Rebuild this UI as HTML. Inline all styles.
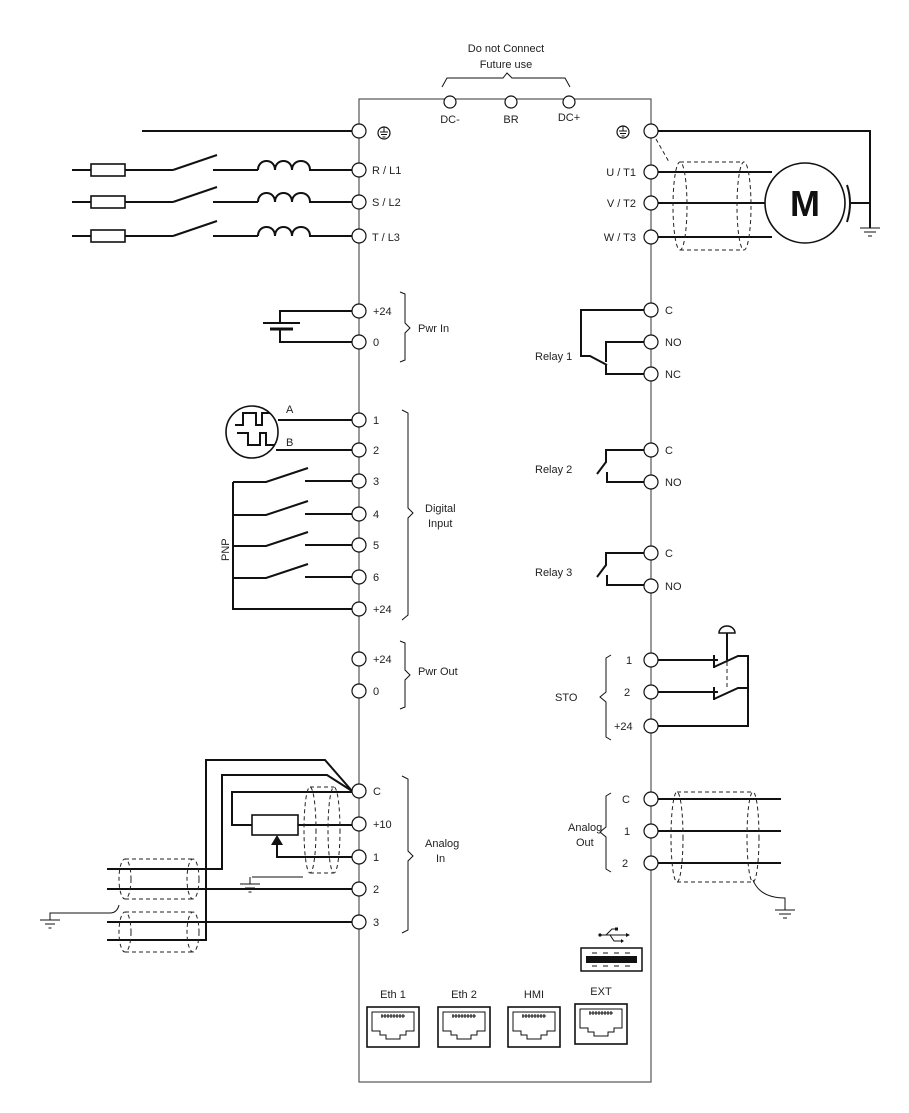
<!DOCTYPE html>
<html><head><meta charset="utf-8"><style>
html,body{margin:0;padding:0;background:#fff}
svg{display:block}
text{font-family:"Liberation Sans",sans-serif;font-size:11px;fill:#222}
.w{stroke:#111;stroke-width:2;fill:none}
.t{stroke:#111;stroke-width:1;fill:none}
.d{stroke:#222;stroke-width:1;fill:none;stroke-dasharray:4 3}
.c{fill:#fff;stroke:#111;stroke-width:1.2}
</style></head><body>
<svg width="909" height="1113" viewBox="0 0 909 1113" xmlns="http://www.w3.org/2000/svg">
<rect x="359" y="99" width="292" height="983" fill="none" stroke="#555" stroke-width="1.2"/>
<text x="506" y="52" text-anchor="middle" font-size="12">Do not Connect</text>
<text x="506" y="68" text-anchor="middle" font-size="12">Future use</text>
<path class="t" d="M442 87 L447 78 L503 78 L507 73 L512 78 L565 78 L570 87"/>
<circle class="c" cx="450" cy="102" r="6"/><circle class="c" cx="511" cy="102" r="6"/><circle class="c" cx="569" cy="102" r="6"/>
<text x="450" y="123" text-anchor="middle" font-size="10">DC-</text>
<text x="511" y="123" text-anchor="middle" font-size="10">BR</text>
<text x="569" y="121" text-anchor="middle" font-size="10">DC+</text>

<line class="w" x1="142" y1="131" x2="352" y2="131"/>
<g id="ph">
<line class="w" x1="72" y1="170" x2="91" y2="170"/>
<rect x="91" y="164" width="34" height="12" fill="none" stroke="#111" stroke-width="1.6"/>
<line class="w" x1="125" y1="170" x2="173" y2="170"/>
<line class="w" x1="173" y1="170" x2="217" y2="155"/>
<line class="w" x1="213" y1="170" x2="258" y2="170"/>
<path class="w" d="M258 170 C258 158 275 158 275 170 C275 158 292 158 292 170 C292 158 310 158 310 170 L352 170"/>
</g>
<use href="#ph" transform="translate(0,32)"/>
<use href="#ph" transform="translate(0,66)"/>
<g id="es"><circle cx="384" cy="133" r="6" fill="none" stroke="#111" stroke-width="1.2"/><path class="t" d="M384 127 V132 M380 132 H388 M381 134.5 H387 M382.5 137 H385.5"/></g>
<use href="#es" transform="translate(239,-1)"/>
<text x="372" y="174">R / L1</text><text x="372" y="206">S / L2</text><text x="372" y="241">T / L3</text>

<path class="w" d="M352 311 H280 V323 M263 323 H300 M352 342 H280 V330"/>
<line x1="270" y1="329" x2="293" y2="329" stroke="#111" stroke-width="3"/>
<path class="t" d="M400 292 L405 294 V323 L410 328 L405 333 V360 L400 362"/>
<text x="373" y="315">+24</text><text x="373" y="346">0</text>
<text x="418" y="332">Pwr In</text>

<circle cx="252" cy="432" r="26" fill="none" stroke="#111" stroke-width="1.6"/>
<path class="w" d="M235 425 H243 V413 H256 V425 H262 V413 H270 M237 433 H248 V445 H260 V433 H266 V445 H275"/>
<path class="w" d="M278 420 H352 M276 450 H352"/>
<text x="286" y="413" font-size="12">A</text><text x="286" y="446" font-size="12">B</text>
<path class="w" d="M352 609 H233 V482"/>
<g id="sw"><path class="w" d="M233 482 H266 L308 468 M305 481 H352"/></g>
<use href="#sw" transform="translate(0,33)"/><use href="#sw" transform="translate(0,64)"/><use href="#sw" transform="translate(0,96)"/>
<text transform="translate(229,561) rotate(-90)" font-size="12">PNP</text>
<path class="t" d="M402 410 L408 413 V508 L413 513 L408 518 V615 L402 620"/>
<text x="425" y="512">Digital</text><text x="428" y="527">Input</text>
<text x="373" y="424">1</text><text x="373" y="454">2</text><text x="373" y="485">3</text><text x="373" y="518">4</text><text x="373" y="549">5</text><text x="373" y="581">6</text><text x="373" y="613">+24</text>
<text x="373" y="663">+24</text><text x="373" y="695">0</text>
<path class="t" d="M400 641 L405 643 V670 L410 675 L405 680 V707 L400 709"/>
<text x="418" y="675">Pwr Out</text>

<path class="w" d="M107 940 H206 V760 H325 L352 791 M107 869 H222 V775 H327 L352 791 M352 792 H232 V825 H252"/>
<rect x="252" y="815" width="46" height="20" fill="none" stroke="#111" stroke-width="1.6"/>
<path class="w" d="M298 825 H352 M277 845 V857 H352 M107 889 H352 M107 922 H352"/>
<path d="M271 845 L283 845 L277 835 Z" fill="#111"/>
<path class="t" d="M252 877 H303 M250 877 V884"/>
<path class="t" d="M240 884 H260 M245 888 H255 M248.5 892 H251.5"/>
<ellipse class="d" cx="310" cy="830" rx="6" ry="43"/><ellipse class="d" cx="334" cy="830" rx="6" ry="43"/>
<path class="d" d="M310 787 H334 M310 873 H334"/>
<ellipse class="d" cx="125" cy="879" rx="6" ry="20"/><ellipse class="d" cx="193" cy="879" rx="6" ry="20"/>
<path class="d" d="M125 859 H193 M125 899 H193"/>
<ellipse class="d" cx="125" cy="932" rx="6" ry="20"/><ellipse class="d" cx="193" cy="932" rx="6" ry="20"/>
<path class="d" d="M125 912 H193 M125 952 H193"/>
<path class="t" d="M119 905 Q117 913 110 913 H50 V920 M40 920 H60 M45 924 H55 M48.5 928 H51.5"/>
<path class="t" d="M402 776 L408 779 V851 L413 856 L408 861 V930 L402 933"/>
<text x="425" y="847">Analog</text><text x="436" y="862">In</text>
<text x="373" y="795">C</text><text x="373" y="828">+10</text><text x="373" y="861">1</text><text x="373" y="893">2</text><text x="373" y="926">3</text>

<path class="w" d="M658 131 H870 V228"/>
<path class="t" d="M860 228 H880 M864 232 H876 M868 236 H872"/>
<path class="w" d="M658 172 H772 M658 203 H765 M658 237 H772 M851 203 H870"/>
<circle cx="805" cy="203" r="40" fill="#fff" stroke="#111" stroke-width="1.6"/>
<text x="805" y="216" text-anchor="middle" style="font-size:36px;font-weight:bold;fill:#111">M</text>
<path class="w" d="M847 185 Q853 203 847 222" stroke-width="1.5"/>
<ellipse class="d" cx="680" cy="206" rx="7" ry="44"/><ellipse class="d" cx="744" cy="206" rx="7" ry="44"/>
<path class="d" d="M680 162 H744 M680 250 H744 M656 139 L669 162"/>
<text x="636" y="176" text-anchor="end">U / T1</text><text x="636" y="207" text-anchor="end">V / T2</text><text x="636" y="241" text-anchor="end">W / T3</text>

<path class="w" d="M644 310 H581 V356 H590 L607 365 M644 342 H606 V362 M644 374 H606 V365"/>
<text x="535" y="360">Relay 1</text>
<g id="rl"><path class="w" d="M644 450 H606 V462 L597 474 M644 482 H607 V472"/></g>
<text x="535" y="473">Relay 2</text>
<use href="#rl" transform="translate(0,103)"/>
<text x="535" y="576">Relay 3</text>
<text x="665" y="314">C</text><text x="665" y="346">NO</text><text x="665" y="378">NC</text>
<text x="665" y="454">C</text><text x="665" y="486">NO</text>
<text x="665" y="557">C</text><text x="665" y="590">NO</text>

<path class="w" d="M658 660 H718 M714 655 V668 M714 667 L738 656 H748 V726 H658 M658 692 H718 M714 687 V700 M714 699 L738 688 H748"/>
<path class="d" d="M727 662 V690" stroke-dasharray="3 2"/>
<path class="w" d="M727 633 V660" stroke-width="1.5"/>
<path d="M719 633 A8 7 0 0 1 735 633 Z" fill="none" stroke="#111" stroke-width="1.5"/>
<path class="t" d="M611 655 L606 658 V692 L600 697 L606 702 V737 L611 740"/>
<text x="555" y="701">STO</text>
<text x="626" y="664">1</text><text x="624" y="696">2</text><text x="614" y="730">+24</text>

<path class="w" d="M658 799 H781 M658 831 H781 M658 863 H781"/>
<ellipse class="d" cx="677" cy="837" rx="6" ry="45"/><ellipse class="d" cx="753" cy="837" rx="6" ry="45"/>
<path class="d" d="M677 792 H753 M677 882 H753"/>
<path class="t" d="M753 880 Q760 898 785 898 V910 M775 910 H795 M779 914 H791 M783 918 H787"/>
<path class="t" d="M611 793 L606 796 V827 L600 832 L606 837 V869 L611 872"/>
<text x="568" y="831">Analog</text><text x="576" y="846">Out</text>
<text x="622" y="803">C</text><text x="624" y="835">1</text><text x="622" y="867">2</text>

<g>
<circle class="c" cx="359" cy="131" r="7"/><circle class="c" cx="359" cy="170" r="7"/><circle class="c" cx="359" cy="202" r="7"/><circle class="c" cx="359" cy="236" r="7"/>
<circle class="c" cx="359" cy="311" r="7"/><circle class="c" cx="359" cy="342" r="7"/>
<circle class="c" cx="359" cy="420" r="7"/><circle class="c" cx="359" cy="450" r="7"/><circle class="c" cx="359" cy="481" r="7"/><circle class="c" cx="359" cy="514" r="7"/><circle class="c" cx="359" cy="545" r="7"/><circle class="c" cx="359" cy="577" r="7"/><circle class="c" cx="359" cy="609" r="7"/>
<circle class="c" cx="359" cy="659" r="7"/><circle class="c" cx="359" cy="691" r="7"/>
<circle class="c" cx="359" cy="791" r="7"/><circle class="c" cx="359" cy="824" r="7"/><circle class="c" cx="359" cy="857" r="7"/><circle class="c" cx="359" cy="889" r="7"/><circle class="c" cx="359" cy="922" r="7"/>
</g>
<g>
<circle class="c" cx="651" cy="131" r="7"/><circle class="c" cx="651" cy="172" r="7"/><circle class="c" cx="651" cy="203" r="7"/><circle class="c" cx="651" cy="237" r="7"/>
<circle class="c" cx="651" cy="310" r="7"/><circle class="c" cx="651" cy="342" r="7"/><circle class="c" cx="651" cy="374" r="7"/>
<circle class="c" cx="651" cy="450" r="7"/><circle class="c" cx="651" cy="482" r="7"/><circle class="c" cx="651" cy="553" r="7"/><circle class="c" cx="651" cy="586" r="7"/>
<circle class="c" cx="651" cy="660" r="7"/><circle class="c" cx="651" cy="692" r="7"/><circle class="c" cx="651" cy="726" r="7"/>
<circle class="c" cx="651" cy="799" r="7"/><circle class="c" cx="651" cy="831" r="7"/><circle class="c" cx="651" cy="863" r="7"/>
</g>

<rect x="581" y="948" width="61" height="23" fill="none" stroke="#111" stroke-width="1.5"/>
<rect x="586" y="956" width="51" height="7" fill="#111"/>
<path class="t" d="M592 953 H597 M603 953 H608 M614 953 H619 M625 953 H630 M592 966 H597 M603 966 H608 M614 966 H619 M625 966 H630"/>
<path class="t" d="M600 935 H626 M606 935 L612 929 H616 M610 935 L614 941 H621"/>
<circle cx="600" cy="935" r="1.6" fill="#111"/><path d="M626 933 L630 935 L626 937 Z" fill="#111"/>
<rect x="615" y="927.5" width="3" height="3" fill="#111"/><path d="M621 939 L624 941 L621 943Z" fill="#111"/>

<g id="eth">
<rect x="367" y="1007" width="52" height="40" fill="none" stroke="#111" stroke-width="1.6"/>
<path class="t" stroke-width="1.3" d="M372 1012 H414 V1031 H406 V1035 H400 V1039 H386 V1035 H380 V1031 H372 Z"/>
<path class="t" d="M381 1016 H405 M382 1014 V1018 M385 1014 V1018 M388 1014 V1018 M391 1014 V1018 M394 1014 V1018 M397 1014 V1018 M400 1014 V1018 M403 1014 V1018"/>
</g>
<use href="#eth" transform="translate(71,0)"/>
<use href="#eth" transform="translate(141,0)"/>
<use href="#eth" transform="translate(208,-3)"/>
<text x="393" y="998" text-anchor="middle">Eth 1</text>
<text x="464" y="998" text-anchor="middle">Eth 2</text>
<text x="534" y="998" text-anchor="middle">HMI</text>
<text x="601" y="995" text-anchor="middle">EXT</text>
</svg>
</body></html>
